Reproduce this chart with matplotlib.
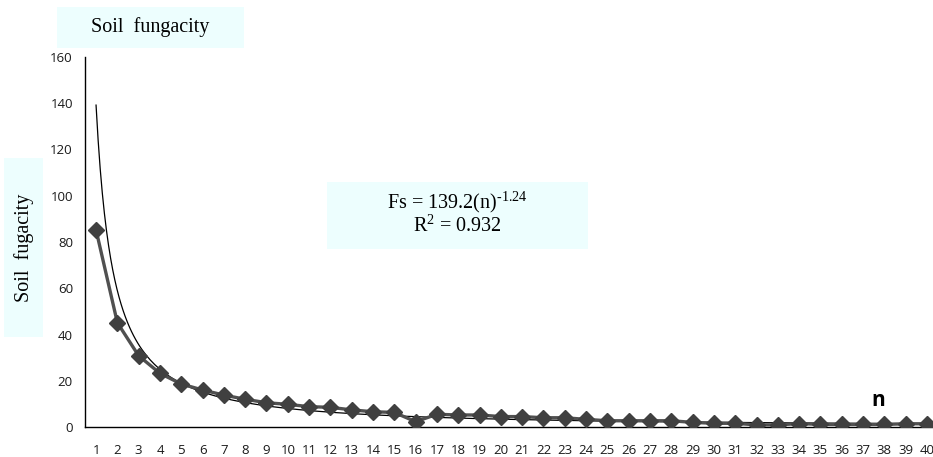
import numpy as np
import matplotlib
matplotlib.use("Agg")
import matplotlib.pyplot as plt
from matplotlib.patches import Rectangle

plt.rcParams["axes.unicode_minus"] = False
plt.rcParams["mathtext.fontset"] = "custom"
plt.rcParams["mathtext.rm"] = "Liberation Serif"

# 数据
n_values = list(range(1, 41))
soil_fugacity = [85.2, 45.1, 30.8, 23.2, 18.6, 16.0, 13.8, 12.0, 10.5, 9.8,
                 8.8, 8.5, 7.4, 6.6, 6.3, 2.3, 5.5, 5.2, 5.2, 4.5,
                 4.5, 4.0, 4.0, 3.3, 2.7, 2.7, 2.7, 2.7, 2.0, 1.6,
                 1.6, 0.9, 0.9, 1.5, 1.1, 1.1, 1.1, 1.1, 1.4, 1.4]
y_ticks = [0, 20, 40, 60, 80, 100, 120, 140, 160]

# 幂函数趋势线参数 Fs = a * n^b
fit_a = 139.2
fit_b = -1.24
fit_r2 = 0.932

BOX_COLOR = "#EDFEFE"
SERIF = ["Liberation Serif", "DejaVu Serif"]

W, H = 933, 457
fig = plt.figure(figsize=(W / 100, H / 100), dpi=100)

# 坐标区：x 轴从 0.5 到 40.5，右侧超出画布
ax_left, ax_right = 85.4, 937.6
ax_top, ax_bottom = 57, 427
ax = fig.add_axes([ax_left / W, (H - ax_bottom) / H,
                   (ax_right - ax_left) / W, (ax_bottom - ax_top) / H])

# 趋势线
n_fine = np.linspace(1, 40, 400)
ax.plot(n_fine, fit_a * n_fine ** fit_b, color="black", lw=0.9, zorder=2)

# 数据折线
ax.plot(n_values, soil_fugacity, color="#505050", lw=2.4, zorder=3)
ax.plot(n_values, soil_fugacity, linestyle="none", marker="D", markersize=8.5,
        color="#404040", zorder=4)

ax.set_xlim(0.5, 40.5)
ax.set_ylim(0, 160)
ax.set_xticks(n_values)
ax.set_yticks(y_ticks)
ax.tick_params(axis="both", length=0, labelsize=9.5, colors="#1a1a1a")
ax.tick_params(axis="x", pad=12)
ax.tick_params(axis="y", pad=9)
for lab in ax.get_xticklabels() + ax.get_yticklabels():
    lab.set_family("Open Sans")
for side in ("top", "right"):
    ax.spines[side].set_visible(False)
for side in ("left", "bottom"):
    ax.spines[side].set_color("black")
    ax.spines[side].set_linewidth(1.0)
ax.patch.set_alpha(0)

# 文本框
def box(x0, y0, x1, y1):
    fig.patches.append(Rectangle((x0 / W, 1 - y1 / H), (x1 - x0) / W, (y1 - y0) / H,
                                 transform=fig.transFigure, facecolor=BOX_COLOR,
                                 edgecolor="none", zorder=0))

box(57, 7, 244, 48)
fig.text(150 / W, 1 - 27 / H, "Soil  fungacity", family=SERIF, fontsize=14.5,
         ha="center", va="center")

box(4, 158, 43, 337)
fig.text(24 / W, 1 - 248 / H, "Soil  fugacity", family=SERIF, fontsize=14.5,
         rotation=90, ha="center", va="center")

box(327, 182, 588, 249)
fig.text(457 / W, 1 - 202 / H,
         "Fs = %.1f(n)$^{\\text{%.2f}}$" % (fit_a, fit_b),
         family=SERIF, fontsize=14.5, ha="center", va="center")
fig.text(457 / W, 1 - 226 / H, "R$^{\\mathregular{2}}$ = %.3f" % fit_r2,
         family=SERIF, fontsize=14.5, ha="center", va="center")

fig.text(878 / W, 1 - 400 / H, "n", family="Open Sans", fontweight="bold",
         fontsize=15, ha="center", va="center")

fig.savefig("out.png", dpi=100)
